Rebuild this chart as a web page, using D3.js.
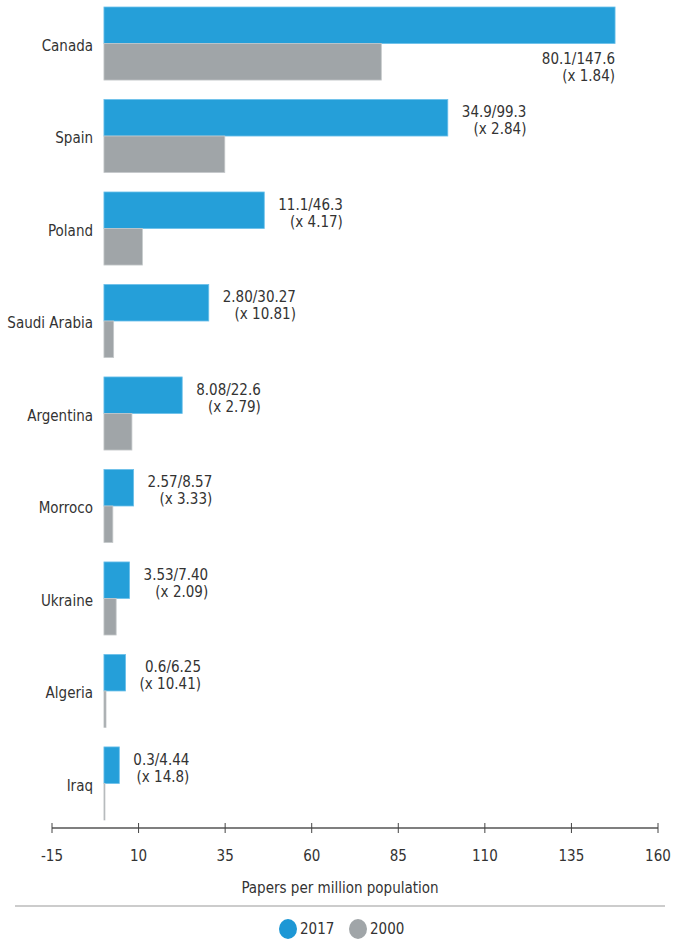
<!DOCTYPE html>
<html>
<head>
<meta charset="utf-8">
<script src="https://cdn.jsdelivr.net/npm/d3@7"></script>
<style>
  body { margin: 0; background: #fff; }
  svg text { font-family: "Liberation Sans Narrow", "DejaVu Sans Condensed", "Roboto", sans-serif; fill: #333; }
</style>
</head>
<body>
<svg id="chart"></svg>
<script>
// data
var countries = ["Canada", "Spain", "Poland", "Saudi Arabia", "Argentina", "Morroco", "Ukraine", "Algeria", "Iraq"];
var values2017 = [147.6, 99.3, 46.3, 30.27, 22.6, 8.57, 7.40, 6.25, 4.44];
var values2000 = [80.1, 34.9, 11.1, 2.80, 8.08, 2.57, 3.53, 0.6, 0.3];
var labels2000 = ["80.1", "34.9", "11.1", "2.80", "8.08", "2.57", "3.53", "0.6", "0.3"];
var labels2017 = ["147.6", "99.3", "46.3", "30.27", "22.6", "8.57", "7.40", "6.25", "4.44"];
var ratios = ["1.84", "2.84", "4.17", "10.81", "2.79", "3.33", "2.09", "10.41", "14.8"];
var xTicks = [-15, 10, 35, 60, 85, 110, 135, 160];
var seriesNames = ["2017", "2000"];

var width = 678,
    height = 947;

var colors = { "2017": "#259fd9", "2000": "#a0a5a8" };
var strokes = { "2017": "#6cc0ea", "2000": "#c5c9cb" };

var svg = d3.select("#chart")
    .attr("width", width)
    .attr("height", height);

var x = d3.scaleLinear().domain([-15, 160]).range([52, 658]);

var y = d3.scaleBand()
    .domain(countries)
    .range([7, 820])
    .paddingInner(0.21)
    .paddingOuter(0);

var ySub = d3.scaleBand()
    .domain(seriesNames)
    .range([0, y.bandwidth()]);

var rows = countries.map(function(c, i) {
  return { country: c, v2017: values2017[i], v2000: values2000[i],
           l1: labels2000[i] + "/" + labels2017[i], l2: "(x " + ratios[i] + ")" };
});

var group = svg.selectAll(".group")
    .data(rows)
  .enter().append("g")
    .attr("class", "group")
    .attr("transform", function(d) { return "translate(0," + y(d.country) + ")"; });

seriesNames.forEach(function(s) {
  group.append("rect")
      .attr("x", x(0))
      .attr("y", ySub(s))
      .attr("width", function(d) { return Math.max(1, x(d["v" + s]) - x(0)); })
      .attr("height", ySub.bandwidth())
      .attr("fill", colors[s])
      .attr("stroke", strokes[s])
      .attr("stroke-width", 0.8);
});

// country names
group.append("text")
    .attr("x", 93)
    .attr("y", y.bandwidth() / 2 + 2)
    .attr("dy", "0.35em")
    .attr("text-anchor", "end")
    .style("font-size", "15px")
    .text(function(d) { return d.country; });

// value labels, two lines right aligned
group.each(function(d, i) {
  var g = d3.select(this);
  var t1 = g.append("text").style("font-size", "15px").attr("text-anchor", "end").text(d.l1);
  var t2 = g.append("text").style("font-size", "15px").attr("text-anchor", "end").text(d.l2);
  var w = Math.max(t1.node().getComputedTextLength(), t2.node().getComputedTextLength());
  var end, y1;
  if (i === 0) {
    // first label sits under the long bar
    end = x(d.v2017);
    y1 = ySub("2000") + 20;
  } else {
    end = x(d.v2017) + 14 + w;
    y1 = 18;
  }
  t1.attr("x", end).attr("y", y1);
  t2.attr("x", end).attr("y", y1 + 17);
});

// x axis
var axisY = 828;
var xAxis = svg.append("g")
    .attr("transform", "translate(0," + axisY + ")");

xAxis.append("line")
    .attr("x1", x(-15)).attr("x2", x(160))
    .attr("stroke", "#555").attr("stroke-width", 1.5);

xAxis.selectAll(".tick")
    .data(xTicks)
  .enter().append("line")
    .attr("class", "tick")
    .attr("x1", function(d) { return x(d); })
    .attr("x2", function(d) { return x(d); })
    .attr("y1", -5).attr("y2", 5)
    .attr("stroke", "#444").attr("stroke-width", 1);

xAxis.selectAll(".tlabel")
    .data(xTicks)
  .enter().append("text")
    .attr("class", "tlabel")
    .attr("x", function(d) { return x(d); })
    .attr("y", 33)
    .attr("text-anchor", "middle")
    .style("font-size", "15px")
    .text(function(d) { return d; });

svg.append("text")
    .attr("x", 340)
    .attr("y", 893)
    .attr("text-anchor", "middle")
    .style("font-size", "15px")
    .text("Papers per million population");

svg.append("line")
    .attr("x1", 15).attr("x2", 665)
    .attr("y1", 906).attr("y2", 906)
    .attr("stroke", "#999").attr("stroke-width", 1);

// legend
var legendX = [288, 358];
var legend = svg.selectAll(".legend")
    .data(seriesNames)
  .enter().append("g")
    .attr("class", "legend")
    .attr("transform", function(d, i) { return "translate(" + legendX[i] + ",929)"; });

legend.append("ellipse")
    .attr("rx", 9).attr("ry", 10)
    .attr("fill", function(d) { return d === "2017" ? "#1d97d5" : "#a0a5a8"; });

legend.append("text")
    .attr("x", 12)
    .attr("dy", "0.35em")
    .style("font-size", "15px")
    .text(function(d) { return d; });
</script>
</body>
</html>
